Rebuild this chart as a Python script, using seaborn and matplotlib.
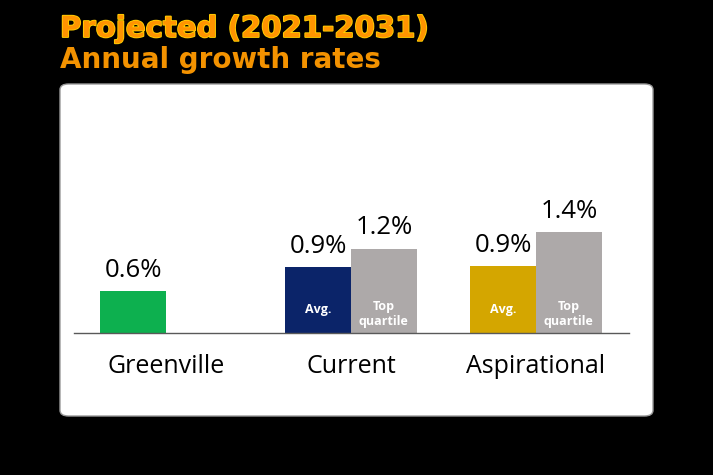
import matplotlib
matplotlib.use("Agg")
import matplotlib.pyplot as plt
import matplotlib.patheffects as pe
from matplotlib.patches import FancyBboxPatch
import seaborn as sns
import pandas as pd

# ---- data ----
categories = ["Greenville", "Current", "Aspirational"]
bar_category = ["Greenville", "Current", "Current", "Aspirational", "Aspirational"]
bar_series = ["Avg.", "Avg.", "Top quartile", "Avg.", "Top quartile"]
bar_values = [0.60, 0.94, 1.21, 0.96, 1.45]
value_labels = ["0.6%", "0.9%", "1.2%", "0.9%", "1.4%"]
inner_labels = ["", "Avg.", "Top\nquartile", "Avg.", "Top\nquartile"]
hue_order = ["Avg.", "Top quartile"]
title = "Projected (2021-2031)"
subtitle = "Annual growth rates"

bar_colors = {
    ("Greenville", "Avg."): "#0DB04F",
    ("Current", "Avg."): "#0B2469",
    ("Current", "Top quartile"): "#ADA9A9",
    ("Aspirational", "Avg."): "#D4A600",
    ("Aspirational", "Top quartile"): "#ADA9A9",
}

df = pd.DataFrame({"category": bar_category, "series": bar_series,
                   "value": bar_values, "label": value_labels,
                   "inner": inner_labels})

sns.set_theme(style="white")
plt.rcParams["font.family"] = ["Open Sans", "DejaVu Sans"]

W, H = 713, 475
fig = plt.figure(figsize=(W / 100, H / 100), dpi=100)
fig.patch.set_facecolor("black")

# white rounded panel
panel = FancyBboxPatch((60 / W, 1 - 416 / H), (653 - 60) / W, (416 - 84) / H,
                       boxstyle="round,pad=0,rounding_size=0.012",
                       transform=fig.transFigure, facecolor="white",
                       edgecolor="#9A9A9A", linewidth=1.0, zorder=-10)
fig.patches.append(panel)

ax = fig.add_axes([73.5 / W, (H - 332.7) / H, 555 / W, 139 / H])
ax.set_facecolor("none")
ax.set_zorder(5)

sns.barplot(data=df, x="category", y="value", hue="series",
            order=categories, hue_order=hue_order, width=0.71,
            errorbar=None, legend=False, ax=ax, saturation=1)

ax.set_xlim(-0.5, 2.5)
ax.set_ylim(0, 2.0)

for cont, level in zip(ax.containers, hue_order):
    present = set(df[df["series"] == level]["category"])
    sub = df[df["series"] == level].set_index("category").reindex(
        [c for c in categories if c in present])
    for bar, (cat, row) in zip(cont, sub.iterrows()):
        bar.set_facecolor(bar_colors[(cat, level)])
        bar.set_edgecolor("none")
    ax.bar_label(cont, labels=list(sub["label"]), padding=6,
                 fontsize=18.5, color="black")
    for bar, (cat, row) in zip(cont, sub.iterrows()):
        if row["inner"]:
            cx = bar.get_x() + bar.get_width() / 2
            yy = 0.33 if "\n" not in row["inner"] else 0.27
            ax.text(cx, yy, row["inner"], ha="center", va="center",
                    color="white", fontsize=9, fontweight="bold",
                    linespacing=1.2)

for s in ["top", "right", "left"]:
    ax.spines[s].set_visible(False)
ax.spines["bottom"].set_color("#595959")
ax.spines["bottom"].set_linewidth(1.0)
ax.set_yticks([])
ax.set_xlabel("")
ax.set_ylabel("")
ax.tick_params(axis="x", length=0, pad=15, labelsize=18, labelcolor="black")

# titles
fig.text(60 / W, 1 - 37 / H, title, fontsize=21, fontweight="bold",
         family="DejaVu Sans", color="#FF9400", va="baseline", ha="left",
         path_effects=[pe.withStroke(linewidth=1.3, foreground="#FFD000")])
fig.text(60 / W, 1 - 68 / H, subtitle, fontsize=20, fontweight="bold",
         family="DejaVu Sans", color="#F39200", va="baseline", ha="left")

fig.savefig("out.png", dpi=100, facecolor=fig.get_facecolor())
